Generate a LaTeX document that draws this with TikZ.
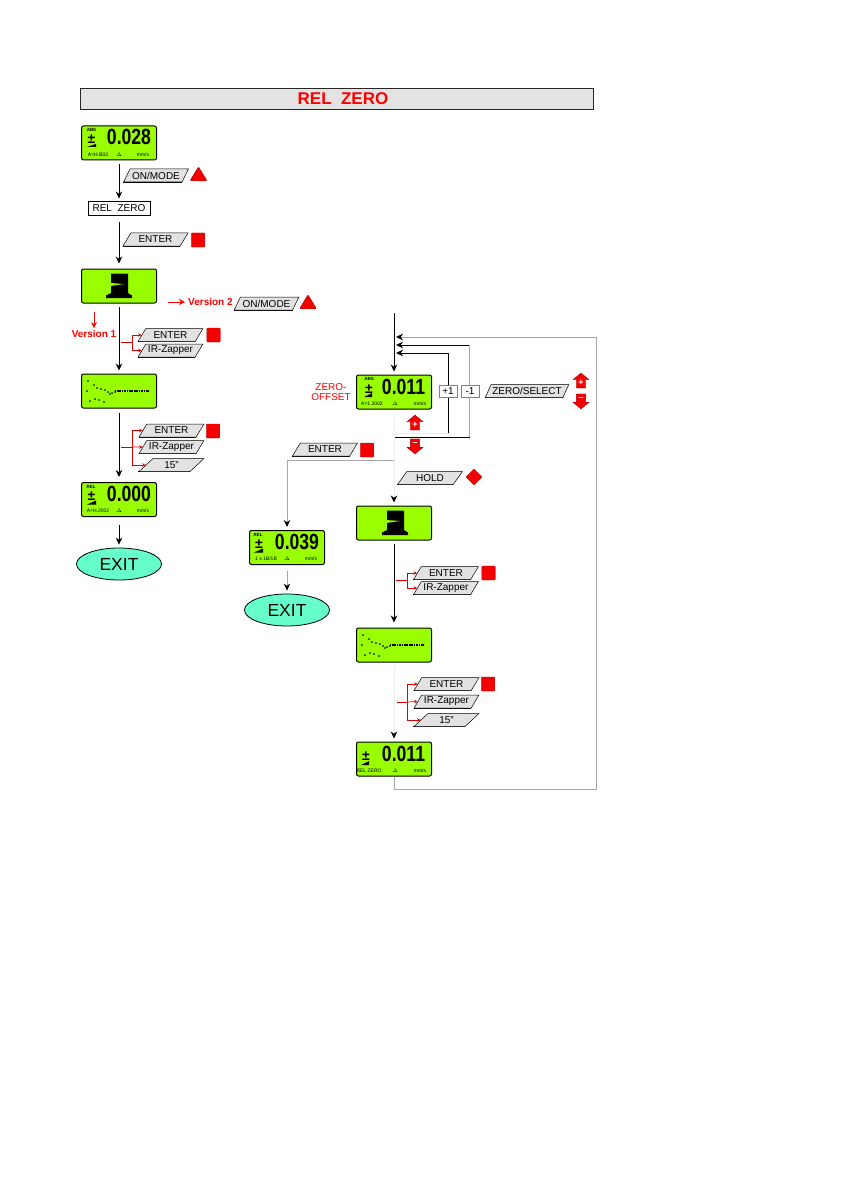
\documentclass[tikz,border=0pt]{standalone}
\usepackage{fontspec}
\usepackage{xcolor}
\usepackage{tikz}
\usetikzlibrary{arrows.meta,shapes.geometric,shapes.arrows}
\setmainfont{Liberation Sans}
\definecolor{lcdgreen}{HTML}{99FF00}
\definecolor{exitcyan}{HTML}{66FFCC}
\definecolor{btngray}{HTML}{E2E2E2}
\definecolor{keyred}{HTML}{F50000}
\begin{document}
\begin{tikzpicture}[x=1pt,y=-1pt,>={Stealth[length=7pt,width=6.5pt]},
  lcd/.style={draw=black,line width=1pt,fill=lcdgreen,rounded corners=2pt,minimum width=75pt,minimum height=34pt,inner sep=0pt},
  lcdval/.style={font=\fontsize{22}{22}\selectfont\bfseries,inner sep=0pt,transform shape,xscale=0.8},
  lcdsign/.style={font=\fontsize{14}{14}\selectfont\bfseries,inner sep=0pt},
  lcdtiny/.style={font=\fontsize{5}{5}\selectfont,inner sep=0pt},
  lcdtop/.style={font=\fontsize{4.5}{5}\selectfont\bfseries,inner sep=0pt},
  btn/.style={draw=black,line width=0.5pt,fill=btngray,trapezium,trapezium left angle=52,trapezium right angle=128,trapezium stretches=true,minimum width=65pt,minimum height=13pt,inner sep=0pt,font=\fontsize{10}{10}\selectfont,
    append after command={\pgfextra{\draw[line width=1.1pt] (\tikzlastnode.bottom left corner) -- (\tikzlastnode.bottom right corner);}}},
  keysq/.style={draw=red!70!black,line width=0.4pt,fill=keyred,rounded corners=1pt,minimum width=13.5pt,minimum height=14pt,inner sep=0pt},
  keytri/.style={draw=red!70!black,line width=0.4pt,fill=keyred,rounded corners=1pt,isosceles triangle,isosceles triangle stretches=true,shape border rotate=90,minimum width=17pt,minimum height=14pt,inner sep=0pt},
  keydia/.style={draw=red!70!black,line width=0.4pt,fill=keyred,diamond,minimum size=16pt,inner sep=0pt},
  keyarrow/.style={draw=red!70!black,line width=0.4pt,fill=keyred,single arrow,single arrow head extend=3pt,single arrow head indent=0pt,single arrow tip angle=100,minimum height=15pt,minimum width=16pt,inner sep=1.5pt,text=white,font=\fontsize{9}{9}\selectfont\bfseries},
  plain box/.style={draw=black,line width=0.9pt,fill=white,minimum width=62pt,minimum height=14pt,inner sep=0pt,font=\fontsize{10}{10}\selectfont},
  step box/.style={draw=gray,line width=0.5pt,fill=white,minimum width=18pt,minimum height=12pt,inner sep=0pt,font=\fontsize{10}{10}\selectfont},
  exitnode/.style={draw=black,line width=0.8pt,fill=exitcyan,ellipse,minimum width=85pt,minimum height=32pt,inner sep=0pt,font=\fontsize{17.5}{18}\selectfont},
  redlabel/.style={text=red,inner sep=0pt,font=\fontsize{10}{10}\selectfont},
  redbold/.style={text=red,inner sep=0pt,font=\fontsize{10}{10}\selectfont\bfseries},
  flow/.style={->,black,line width=0.8pt},
  blackline/.style={black,line width=0.8pt},
  grayline/.style={gray!70,line width=0.8pt},
  grayflow/.style={-{Stealth[length=7pt,width=6.5pt,black]},gray!70,line width=0.8pt},
  faintflow/.style={-{Stealth[length=7pt,width=6.5pt,black]},gray!15,line width=0.8pt},
  forkline/.style={red!85!black,line width=0.7pt},
  forkarrow/.style={->,>={Stealth[length=3.5pt,width=3.5pt]},red!85!black,line width=0.7pt},
  redarrow/.style={->,>={Stealth[length=6pt,width=6pt]},red,line width=0.7pt},
  dotmark/.style={only marks,mark=*,mark size=0.5pt,mark options={fill=black}},
  dotrun/.style={black,line width=1.1pt,dash pattern=on 1.2pt off 0.5pt}]
  \useasboundingbox (0,0) rectangle (840,1190);
  % title bar
  \node[draw=black!85,line width=1.3pt,fill=gray!22,minimum width=513pt,minimum height=21pt,inner sep=0pt] (title) at (337,99) {};
  \node[text=red,inner sep=0pt,font=\fontsize{17}{17}\selectfont\bfseries] (titletext) at (343,99) {REL\ \ ZERO};
  % left column
  \node[lcd] (d1) at (119,143) {};
  \node[lcdval] (d1v) at ([xshift=10pt,yshift=6pt]d1.center) {0.028};
  \node[lcdsign] (d1s) at ([xshift=-27.5pt,yshift=4pt]d1.center) {±};
  \node[lcdtop] (d1t) at ([xshift=-27.5pt,yshift=13pt]d1.center) {ABS};
  \node[lcdtiny] (d1a) at ([xshift=-21pt,yshift=-11.5pt]d1.center) {A=H.B02};
  \node[lcdtiny] (d1b) at ([xshift=0pt,yshift=-11.5pt]d1.center) {$\Delta$};
  \node[lcdtiny] (d1c) at ([xshift=24pt,yshift=-11.5pt]d1.center) {mm/s};
  \fill[shift={(d1.center)}] (-32,4) -- (-23,4) -- (-23,1) -- cycle;
  \node[plain box] (relzero) at (119,208) {REL\ \ ZERO};
  \node[lcd] (d2) at (119,286) {};
  \fill[shift={(d2.center)}] (-8,-12.5) -- (9,-12.5) -- (9,7) -- (13,9.5) -- (13,12) -- (-13,12) -- (-13,9.5) -- (-8,7) -- cycle;
  \fill[lcdgreen,shift={(d2.center)}] (-9,-3) -- (5,-2) -- (-9,0) -- cycle;
  \node[lcd] (d3) at (119,391) {};
  \path[dotmark,shift={(d3.center)}] plot coordinates {(-31,-10) (-25,-6) (-22,-3) (-18,-2) (-14,-1) (-11,1) (-9,3) (-7,2) (-4,1) (-32,0) (-29,10) (-24,8) (-20,9) (-15,11)};
  \draw[dotrun,shift={(d3.center)}] (-4,0) -- (30,0);
  \node[lcd] (d4) at (119,499.5) {};
  \node[lcdval] (d4v) at ([xshift=10pt,yshift=6pt]d4.center) {0.000};
  \node[lcdsign] (d4s) at ([xshift=-27.5pt,yshift=3pt]d4.center) {±};
  \node[lcdtop] (d4t) at ([xshift=-28pt,yshift=13pt]d4.center) {REL};
  \node[lcdtiny] (d4a) at ([xshift=-21pt,yshift=-11.5pt]d4.center) {A=H.2002};
  \node[lcdtiny] (d4b) at ([xshift=0pt,yshift=-11.5pt]d4.center) {$\Delta$};
  \node[lcdtiny] (d4c) at ([xshift=24pt,yshift=-11.5pt]d4.center) {mm/s};
  \fill[shift={(d4.center)}] (-32,5) -- (-23,5) -- (-23,1) -- cycle;
  \node[exitnode] (exit1) at (119,564) {EXIT};
  \draw[flow,shorten <=4pt,shorten >=2pt] (d1) -- (relzero);
  \draw[flow,shorten <=7pt,shorten >=5pt] (relzero) -- (d2);
  \draw[flow,shorten <=3pt,shorten >=3pt] (d2) -- (d3);
  \draw[flow,shorten <=4pt,shorten >=5pt] (d3) -- (d4);
  \draw[flow,shorten <=8pt,shorten >=3pt] (d4) -- (exit1);
  % left keys
  \node[btn] (k1) at (156,175.5) {ON/MODE};
  \node[keytri] (k1m) at (198.5,176) {};
  \node[btn] (k2) at (155.5,239.5) {ENTER};
  \node[keysq] (k2m) at (198,240) {};
  \coordinate (v2start) at (168,302);
  \node[redbold,anchor=west] (v2) at (188,302) {Version 2};
  \node[btn] (k3) at (266.5,303.5) {ON/MODE};
  \node[keytri] (k3m) at (308,304) {};
  \coordinate (v1start) at (94,312);
  \node[redbold] (v1) at (94,334) {Version 1};
  \draw[redarrow,shorten >=3pt] (v2start) -- (v2);
  \draw[redarrow,shorten >=2pt] (v1start) -- (v1);
  \node[btn] (k4) at (170.5,335) {ENTER};
  \node[keysq] (k4m) at (213.5,335) {};
  \node[btn] (k5) at (170.5,350.5) {IR-Zapper};
  \coordinate (f1s) at (121,342);
  \coordinate (f1) at (132,342);
  \draw[forkline] (f1s) -- (f1);
  \draw[forkarrow] (f1) |- (k4.west);
  \draw[forkarrow] (f1) |- (k5.west);
  \node[btn] (k6) at (171.5,430.5) {ENTER};
  \node[keysq] (k6m) at (213,431) {};
  \node[btn] (k7) at (171.5,447) {IR-Zapper};
  \node[btn] (k8) at (171.5,465) {15"};
  \coordinate (f2s) at (121,447);
  \coordinate (f2) at (132,447);
  \draw[forkline] (f2s) -- (f2);
  \draw[forkarrow] (f2) |- (k6.west);
  \draw[forkarrow] (f2) -- (k7.west);
  \draw[forkarrow] (f2) |- (k8.west);
  % right column
  \coordinate (in) at (394,313);
  \coordinate (fb1) at (396,337);
  \coordinate (fb2) at (396,345);
  \coordinate (fb3) at (396,353);
  \coordinate (plusa) at (394,433);
  \coordinate (plusb) at (448,433);
  \coordinate (plusc) at (448,353);
  \coordinate (minusa) at (394,437);
  \coordinate (minusb) at (469.5,437);
  \coordinate (minusc) at (469.5,345);
  \coordinate (backa) at (394,789);
  \coordinate (backb) at (596,789);
  \coordinate (backc) at (596,337);
  \coordinate (down) at (394,460);
  \coordinate (downb) at (287,460);
  \node[lcd] (d5) at (394,392) {};
  \node[lcdval] (d5v) at ([xshift=9.5pt,yshift=5.5pt]d5.center) {0.011};
  \node[lcdsign] (d5s) at ([xshift=-25pt,yshift=3pt]d5.center) {±};
  \node[lcdtop] (d5t) at ([xshift=-25pt,yshift=13pt]d5.center) {ABS};
  \node[lcdtiny] (d5a) at ([xshift=-22pt,yshift=-11.5pt]d5.center) {A=1 2002};
  \node[lcdtiny] (d5b) at ([xshift=1pt,yshift=-11.5pt]d5.center) {$\Delta$};
  \node[lcdtiny] (d5c) at ([xshift=26pt,yshift=-11.5pt]d5.center) {mm/s};
  \fill[shift={(d5.center)}] (-30,5) -- (-22,5) -- (-22,1) -- cycle;
  \node[redlabel,align=center] (zo) at (331,392) {ZERO-\\OFFSET};
  \draw[flow,shorten >=3pt] (in) -- (d5);
  \draw[flow] (plusc) -- (fb3);
  \draw[blackline] (plusb) -- (plusc);
  \draw[gray!15,line width=0.8pt] (plusa) -- (plusb);
  \draw[flow] (minusc) -- (fb2);
  \draw[grayline] (minusb) -- (minusc);
  \draw[blackline] (minusa) -- (minusb);
  \node[step box] (plus) at (448,391) {+1};
  \node[step box] (minus) at (470,391) {-1};
  \node[btn,minimum width=84pt] (k9) at (527,391) {ZERO/SELECT};
  \node[keyarrow,shape border rotate=90] (k9u) at (581,382.5) {+};
  \node[keyarrow,shape border rotate=270] (k9d) at (581,399.5) {--};
  \node[keyarrow,shape border rotate=90] (ku) at (415,424.5) {+};
  \node[keyarrow,shape border rotate=270] (kd) at (415,444.5) {--};
  \node[btn] (k10) at (325,449.5) {ENTER};
  \node[keysq] (k10m) at (367,450) {};
  \node[lcd] (d6) at (287,547.5) {};
  \node[lcdval] (d6v) at ([xshift=10pt,yshift=5.5pt]d6.center) {0.039};
  \node[lcdsign] (d6s) at ([xshift=-28pt,yshift=3pt]d6.center) {±};
  \node[lcdtop] (d6t) at ([xshift=-29pt,yshift=13pt]d6.center) {REL};
  \node[lcdtiny] (d6a) at ([xshift=-21pt,yshift=-11.5pt]d6.center) {1 x 1B/1B};
  \node[lcdtiny] (d6b) at ([xshift=0pt,yshift=-11.5pt]d6.center) {$\Delta$};
  \node[lcdtiny] (d6c) at ([xshift=24pt,yshift=-11.5pt]d6.center) {mm/s};
  \fill[shift={(d6.center)}] (-33,5) -- (-24,5) -- (-24,1) -- cycle;
  \node[exitnode] (exit2) at (287,610) {EXIT};
  \draw[grayline] (down) -- (downb);
  \draw[grayflow,shorten >=3pt] (downb) -- (d6);
  \draw[grayflow,shorten <=6pt,shorten >=3pt] (d6) -- (exit2);
  \node[btn] (k11) at (430,478) {HOLD};
  \node[keydia] (k11m) at (474,477) {};
  \node[lcd] (d7) at (394,523) {};
  \fill[shift={(d7.center)}] (-7,-12.5) -- (10,-12.5) -- (10,7) -- (14,9.5) -- (14,12) -- (-12,12) -- (-12,9.5) -- (-7,7) -- cycle;
  \fill[lcdgreen,shift={(d7.center)}] (-8,-3) -- (6,-2) -- (-8,0) -- cycle;
  \draw[faintflow,shorten <=7pt,shorten >=3pt] (d5) -- (d7);
  \node[lcd] (d8) at (394,645) {};
  \path[dotmark,shift={(d8.center)}] plot coordinates {(-31,-10) (-25,-6) (-22,-3) (-18,-2) (-14,-1) (-11,1) (-9,3) (-7,2) (-4,1) (-32,0) (-29,10) (-24,8) (-20,9) (-15,11)};
  \draw[dotrun,shift={(d8.center)}] (-4,0) -- (30,0);
  \draw[flow,shorten <=3pt,shorten >=5pt] (d7) -- (d8);
  \node[lcd] (d9) at (394,759) {};
  \node[lcdval] (d9v) at ([xshift=9.5pt,yshift=5pt]d9.center) {0.011};
  \node[lcdsign] (d9s) at ([xshift=-28pt,yshift=3pt]d9.center) {±};
  \node[lcdtiny] (d9a) at ([xshift=-25pt,yshift=-11.5pt]d9.center) {REL ZERO};
  \node[lcdtiny] (d9b) at ([xshift=1pt,yshift=-11.5pt]d9.center) {$\Delta$};
  \node[lcdtiny] (d9c) at ([xshift=26pt,yshift=-11.5pt]d9.center) {mm/s};
  \fill[shift={(d9.center)}] (-33,6) -- (-25,6) -- (-25,2) -- cycle;
  \draw[faintflow,shorten <=3pt,shorten >=3pt] (d8) -- (d9);
  \draw[grayline] (d9) -- (backa) -- (backb) -- (backc);
  \draw[grayflow] (backc) -- (fb1);
  % right keys
  \node[btn] (k12) at (446,573) {ENTER};
  \node[keysq] (k12m) at (488.5,573) {};
  \node[btn] (k13) at (446,588) {IR-Zapper};
  \coordinate (f3s) at (396,580);
  \coordinate (f3) at (407,580);
  \draw[forkline] (f3s) -- (f3);
  \draw[forkarrow] (f3) |- (k12.west);
  \draw[forkarrow] (f3) |- (k13.west);
  \node[btn] (k14) at (446.5,684) {ENTER};
  \node[keysq] (k14m) at (488,684) {};
  \node[btn] (k15) at (446.5,701.5) {IR-Zapper};
  \node[btn] (k16) at (446.5,720) {15"};
  \coordinate (f4s) at (397,702);
  \coordinate (f4) at (407,702);
  \draw[forkline] (f4s) -- (f4);
  \draw[forkarrow] (f4) |- (k14.west);
  \draw[forkarrow] (f4) -- (k15.west);
  \draw[forkarrow] (f4) |- (k16.west);
\end{tikzpicture}
\end{document}
